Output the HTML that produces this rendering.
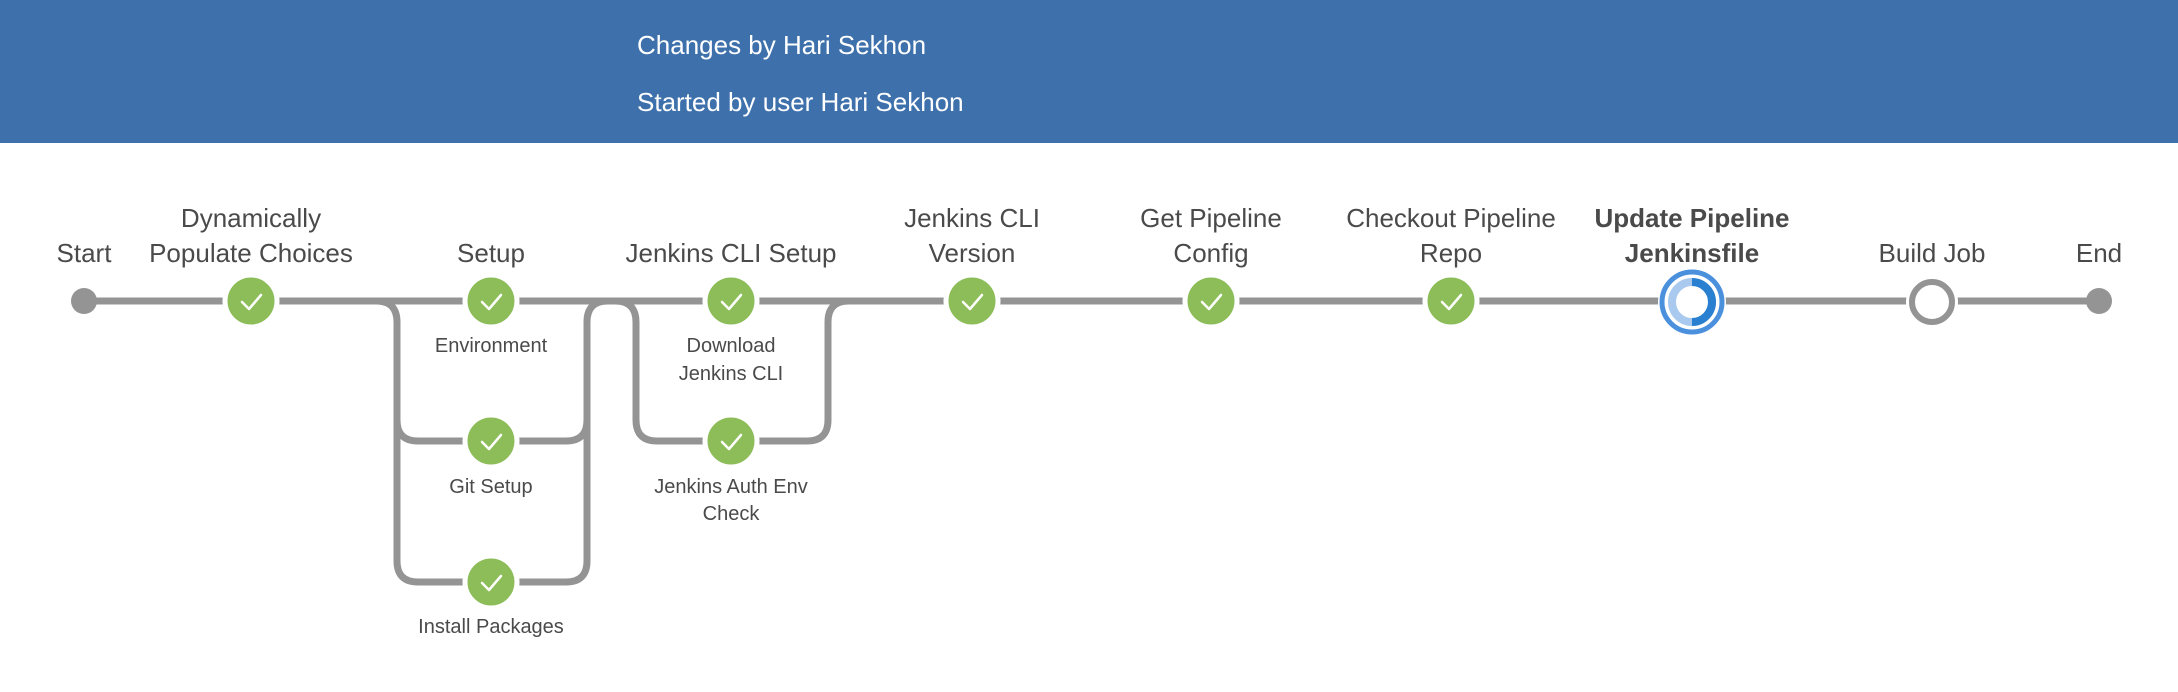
<!DOCTYPE html>
<html><head><meta charset="utf-8"><style>
body{margin:0;width:2178px;height:692px;background:#fff;overflow:hidden;font-family:"Liberation Sans",sans-serif;}
.hdr{position:absolute;left:0;top:0;width:2178px;height:143px;background:#3e71ac;}
.hdr div{position:absolute;left:637px;color:#fff;font-size:26px;}
</style></head><body>
<div class="hdr"><div style="top:30px">Changes by Hari Sekhon</div><div style="top:87px">Started by user Hari Sekhon</div></div>
<svg width="2178" height="692" style="position:absolute;left:0;top:0">
<g fill="none" stroke="#949494" stroke-width="7">
<path d="M84 301 H2099"/>
<path d="M376 301 Q397 301 397 322 V561 Q397 582 418 582 H566 Q587 582 587 561 V322 Q587 301 608 301"/>
<path d="M397 420 Q397 441 418 441 H566 Q587 441 587 420"/>
<path d="M615 301 Q636 301 636 322 V420 Q636 441 657 441 H807 Q828 441 828 420 V322 Q828 301 849 301"/>
</g>
<g fill="#949494"><circle cx="84" cy="301" r="13"/><circle cx="2099" cy="301" r="13"/></g>
<g fill="#8cbd58" stroke="#fff" stroke-width="5">
<circle cx="251" cy="301" r="26"/><circle cx="491" cy="301" r="26"/><circle cx="491" cy="441" r="26"/><circle cx="491" cy="582" r="26"/>
<circle cx="731" cy="301" r="26"/><circle cx="731" cy="441" r="26"/><circle cx="972" cy="301" r="26"/><circle cx="1211" cy="301" r="26"/><circle cx="1451" cy="301" r="26"/>
</g>
<g fill="none" stroke="#fff" stroke-width="2.5" stroke-linecap="round" stroke-linejoin="round">
<path d="M242 302 l7 7 l12 -14"/>
<path d="M482 302 l7 7 l12 -14"/><path d="M482 442 l7 7 l12 -14"/><path d="M482 583 l7 7 l12 -14"/>
<path d="M722 302 l7 7 l12 -14"/><path d="M722 442 l7 7 l12 -14"/><path d="M963 302 l7 7 l12 -14"/><path d="M1202 302 l7 7 l12 -14"/><path d="M1442 302 l7 7 l12 -14"/>
</g>
<circle cx="1692" cy="302" r="34" fill="#fff"/>
<circle cx="1692" cy="302" r="30" fill="#fff" stroke="#4a90dd" stroke-width="5"/>
<circle cx="1692" cy="302" r="20" fill="none" stroke="#a9c9ef" stroke-width="8"/>
<path d="M1692 282 A20 20 0 0 1 1692 322" fill="none" stroke="#2a80d0" stroke-width="8"/>
<circle cx="1932" cy="302" r="26" fill="#fff"/>
<circle cx="1932" cy="302" r="20" fill="#fff" stroke="#949494" stroke-width="6"/>
<g fill="#4a4a4a" font-size="26" text-anchor="middle" font-family="Liberation Sans, sans-serif">
<text x="84" y="262">Start</text>
<text x="251" y="227">Dynamically</text><text x="251" y="262">Populate Choices</text>
<text x="491" y="262">Setup</text>
<text x="731" y="262">Jenkins CLI Setup</text>
<text x="972" y="227">Jenkins CLI</text><text x="972" y="262">Version</text>
<text x="1211" y="227">Get Pipeline</text><text x="1211" y="262">Config</text>
<text x="1451" y="227">Checkout Pipeline</text><text x="1451" y="262">Repo</text>
<text x="1692" y="227" font-weight="bold">Update Pipeline</text><text x="1692" y="262" font-weight="bold">Jenkinsfile</text>
<text x="1932" y="262">Build Job</text>
<text x="2099" y="262">End</text>
</g>
<g fill="#4a4a4a" font-size="20" text-anchor="middle" font-family="Liberation Sans, sans-serif">
<text x="491" y="352">Environment</text>
<text x="491" y="493">Git Setup</text>
<text x="491" y="633">Install Packages</text>
<text x="731" y="352">Download</text><text x="731" y="380">Jenkins CLI</text>
<text x="731" y="493">Jenkins Auth Env</text><text x="731" y="520">Check</text>
</g>
</svg>
</body></html>
